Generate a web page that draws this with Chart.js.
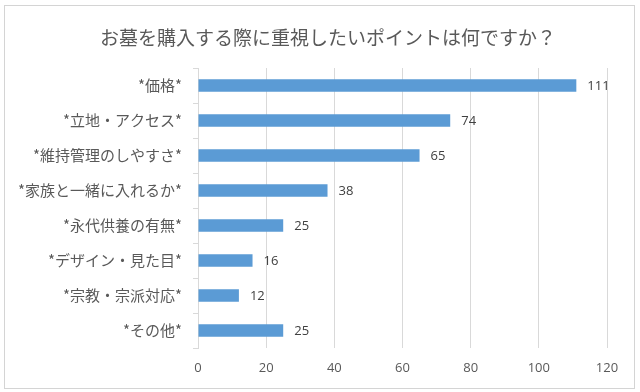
<!DOCTYPE html>
<html>
  <head>
    <meta charset="utf-8">
    <script src="https://cdn.jsdelivr.net/npm/chart.js@4/dist/chart.umd.min.js"></script>
    <style>
      body { margin: 0; background: #fff; }
      #frame { position: absolute; left: 4px; top: 5px; width: 629px; height: 382px; border: 1px solid #d4d4d4; }
      #wrap { position: absolute; left: 0; top: 0; width: 640px; height: 392px; }
    </style>
  </head>
  <body>
    <div id="frame"></div>
    <div id="wrap"><canvas id="chart"></canvas></div>
    <script>
const titleText = "お墓を購入する際に重視したいポイントは何ですか？";
const categories = ["*価格*", "*立地・アクセス*", "*維持管理のしやすさ*", "*家族と一緒に入れるか*",
  "*永代供養の有無*", "*デザイン・見た目*", "*宗教・宗派対応*", "*その他*"];
const counts = [111, 74, 65, 38, 25, 16, 12, 25];
const xTicks = [0, 20, 40, 60, 80, 100, 120];

const JP = '"Noto Sans CJK JP", sans-serif';
const NUM = '"Open Sans", "Liberation Sans", sans-serif';

// title drawn by hand so it can sit centred on the frame, not the chart box
const titlePlugin = {
  id: "titlePlugin",
  afterDraw(chart) {
    var ctx = chart.ctx;
    ctx.save();
    ctx.font = "19px " + JP;
    ctx.fillStyle = "#595959";
    ctx.textAlign = "center";
    ctx.textBaseline = "middle";
    ctx.fillText(titleText, 328, 38);
    ctx.restore();
  }
};

// value labels drawn just past the bar ends
const barLabels = {
  id: "barLabels",
  afterDatasetsDraw(chart) {
    var ctx = chart.ctx;
    var meta = chart.getDatasetMeta(0);
    ctx.save();
    ctx.font = "13px " + NUM;
    ctx.fillStyle = "#404040";
    ctx.textAlign = "left";
    ctx.textBaseline = "middle";
    meta.data.forEach((bar, i) => {
      ctx.fillText(counts[i], bar.x + 11, bar.y + 1);
    });
    ctx.restore();
  }
};

new Chart(document.getElementById("chart"), {
  type: "bar",
  data: {
    labels: categories,
    datasets: [{
      data: counts,
      backgroundColor: "#5b9bd5",
      barPercentage: 0.36,
      categoryPercentage: 1
    }]
  },
  options: {
    indexAxis: "y",
    responsive: true,
    maintainAspectRatio: false,
    animation: false,
    layout: { padding: { top: 68, right: 33, bottom: 0, left: 0 } },
    plugins: {
      legend: { display: false },
      tooltip: { enabled: false },
      title: { display: false }
    },
    scales: {
      x: {
        min: 0,
        max: 120,
        afterBuildTicks: s => { s.ticks = xTicks.map(v => ({ value: v })); },
        afterFit: s => { s.height = 44; },
        grid: { color: "#d9d9d9", drawTicks: false },
        border: { display: false },
        ticks: { color: "#595959", padding: 12, font: { family: NUM, size: 13 } }
      },
      y: {
        afterFit: s => { s.width = 198; },
        grid: { offset: true, drawOnChartArea: false, color: "#d9d9d9", tickLength: 5 },
        border: { display: true, color: "#d9d9d9" },
        ticks: { color: "#595959", padding: 11, font: { family: JP, size: 15 } }
      }
    }
  },
  plugins: [barLabels, titlePlugin]
});
    </script>
  </body>
</html>
